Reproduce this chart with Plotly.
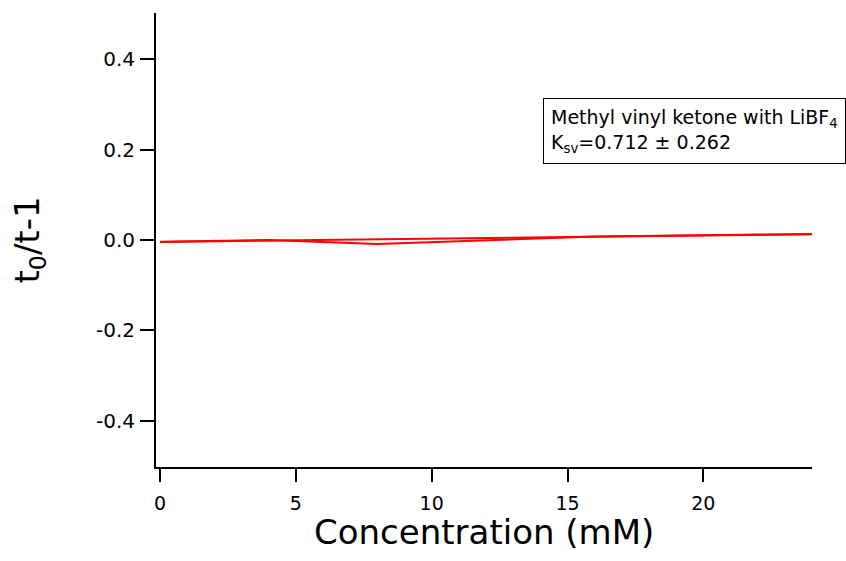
import plotly.graph_objects as go

# Measured quenching data
conc_mM = [0, 4, 8, 16, 24]
t0_over_t_minus_1 = [-0.004, 0.0, -0.009, 0.008, 0.013]

# Stern-Volmer fit (K_sv in M^-1, concentration in mM)
ksv = 0.712
ksv_err = 0.262
fit_intercept = -0.0042
fit_x = [0, 24]
fit_y = [fit_intercept + ksv / 1000.0 * x for x in fit_x]

y_tickvals = [-0.4, -0.2, 0.0, 0.2, 0.4]
y_ticktext = ["-0.4", "-0.2", "0.0", "0.2", "0.4"]
x_tickvals = [0, 5, 10, 15, 20]
x_ticktext = ["0", "5", "10", "15", "20"]

FONT = "DejaVu Sans"

fig = go.Figure()
fig.add_trace(go.Scatter(x=conc_mM, y=t0_over_t_minus_1, mode="lines",
                         line=dict(color="#ff0000", width=2), showlegend=False))
fig.add_trace(go.Scatter(x=fit_x, y=fit_y, mode="lines",
                         line=dict(color="#ff0000", width=2), showlegend=False))

fig.update_layout(
    width=846, height=561,
    margin=dict(l=156, r=34, t=13, b=94),
    paper_bgcolor="white", plot_bgcolor="white",
    font=dict(family=FONT, color="black"),
    xaxis=dict(
        range=[-0.15, 24.0], showgrid=False, zeroline=False,
        showline=True, linecolor="black", linewidth=2,
        ticks="outside", ticklen=13, tickwidth=2, tickcolor="black",
        tickvals=x_tickvals, ticktext=x_ticktext,
        tickfont=dict(size=19, family=FONT), ticklabelstandoff=5,
    ),
    yaxis=dict(
        range=[-0.502, 0.502], showgrid=False, zeroline=False,
        showline=True, linecolor="black", linewidth=2,
        ticks="outside", ticklen=14, tickwidth=2, tickcolor="black",
        tickvals=y_tickvals, ticktext=y_ticktext,
        tickfont=dict(size=20, family=FONT), ticklabelstandoff=1,
        title=dict(text="t<sub>0</sub>/t-1", font=dict(size=34, family=FONT), standoff=46),
    ),
)

# x-axis title placed directly under the tick labels
fig.add_annotation(
    xref="paper", yref="paper", x=0.5, y=-0.143,
    xanchor="center", yanchor="middle", showarrow=False,
    text="Concentration (mM)", font=dict(size=34, family=FONT, color="black"),
)

fig.add_annotation(
    xref="paper", yref="paper", x=0.5899, y=0.8128,
    xanchor="left", yanchor="top", align="left", showarrow=False,
    text=f"Methyl vinyl ketone with LiBF<sub>4</sub><br>K<sub>sv</sub>={ksv:.3f} ± {ksv_err:.3f}",
    font=dict(size=19, family=FONT, color="black"),
    bgcolor="white", bordercolor="black", borderwidth=1, borderpad=7,
)

fig.write_html("out.html")
